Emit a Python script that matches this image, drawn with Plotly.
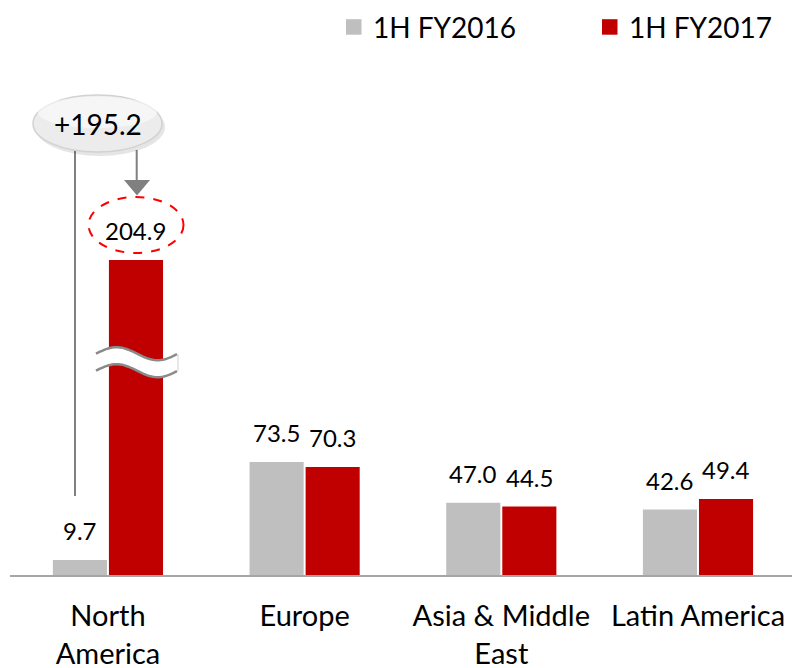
import math
import plotly.graph_objects as go

# Regional figures (first half, fiscal year)
regions = ["North<br>America", "Europe", "Asia & Middle<br>East", "Latin America"]
series_names = ["1H FY2016", "1H FY2017"]
fy2016 = [9.7, 73.5, 47.0, 42.6]
fy2017 = [204.9, 70.3, 44.5, 49.4]
callout_text = "+195.2"

colors = ["#bfbfbf", "#c00000"]
FONT = "Lato, Calibri, Carlito, sans-serif"

W, H = 792, 668
M_L, M_R, M_T, M_B = 10, 0, 60, 93
P_W = W - M_L - M_R
P_H = H - M_T - M_B
Y_MAX = 335
BARGAP = 0.43
BARGROUPGAP = 0.035


def fx(px):
    """pixel x -> paper x"""
    return (px - M_L) / P_W


def fy(py):
    """pixel y -> paper y"""
    return (M_T + P_H - py) / P_H


fig = go.Figure()
for name, vals, col in zip(series_names, [fy2016, fy2017], colors):
    fig.add_trace(go.Bar(x=regions, y=vals, name=name, marker_color=col,
                         marker_line_width=0, showlegend=False))

# value labels above each bar
slot = (1 - BARGAP) / 2
offsets = [-slot / 2, slot / 2]
for off, vals in zip(offsets, [fy2016, fy2017]):
    for i, v in enumerate(vals):
        fig.add_annotation(x=i + off, y=v, xref="x", yref="y", text=f"{v:.1f}",
                           showarrow=False, yanchor="bottom", yshift=13,
                           font=dict(family=FONT, size=24, color="#000000"))

shapes = []

# legend
leg = [(346, series_names[0], colors[0]), (602, series_names[1], colors[1])]
for x0, name, col in leg:
    shapes.append(dict(type="rect", xref="paper", yref="paper",
                       x0=fx(x0), x1=fx(x0 + 15.5), y0=fy(34.7), y1=fy(19.2),
                       fillcolor=col, line_width=0))
    fig.add_annotation(xref="paper", yref="paper", x=fx(x0 + 25), y=fy(27),
                       text=name, showarrow=False, xanchor="left", yanchor="middle",
                       font=dict(family=FONT, size=28, color="#000000"))

# axis break on the tall bar
def wave(x, base):
    return base - 6.5 * math.sin(2 * math.pi * (x - 96) / 82)

xs = [96 + k * 81 / 40 for k in range(41)]
top = [(x, wave(x, 353.7)) for x in xs]
bot = [(x, wave(x, 370.7)) for x in xs]

def pathstr(pts, close=False):
    s = "M " + " L ".join(f"{fx(x):.5f},{fy(y):.5f}" for x, y in pts)
    return s + (" Z" if close else "")

shapes.append(dict(type="path", xref="paper", yref="paper",
                   path=pathstr(top + bot[::-1], close=True),
                   fillcolor="#ffffff", line_width=0))
for pts in (top, bot):
    shapes.append(dict(type="path", xref="paper", yref="paper", path=pathstr(pts),
                       line=dict(color="#8a8a8a", width=2.5)))
shapes.append(dict(type="line", xref="paper", yref="paper",
                   x0=fx(178), x1=fx(178), y0=fy(wave(177, 353.7)), y1=fy(wave(177, 370.7)),
                   line=dict(color="#d0d0d0", width=1)))

# connector lines from callout
shapes.append(dict(type="line", xref="paper", yref="paper",
                   x0=fx(75), x1=fx(75), y0=fy(150), y1=fy(496),
                   line=dict(color="#808080", width=2)))
shapes.append(dict(type="line", xref="paper", yref="paper",
                   x0=fx(136.7), x1=fx(136.7), y0=fy(150), y1=fy(181),
                   line=dict(color="#808080", width=2)))
shapes.append(dict(type="path", xref="paper", yref="paper",
                   path=f"M {fx(124):.5f},{fy(180):.5f} L {fx(150):.5f},{fy(180):.5f} "
                        f"L {fx(137):.5f},{fy(195.5):.5f} Z",
                   fillcolor="#808080", line_width=0))

# callout bubble with soft shadow
shapes.append(dict(type="circle", xref="paper", yref="paper",
                   x0=fx(35), x1=fx(165), y0=fy(98), y1=fy(156),
                   fillcolor="rgba(0,0,0,0.10)", line_width=0))
shapes.append(dict(type="circle", xref="paper", yref="paper",
                   x0=fx(33), x1=fx(162), y0=fy(95), y1=fy(152),
                   fillcolor="#ececec", line=dict(color="#d2d2d2", width=1.5)))
shapes.append(dict(type="circle", xref="paper", yref="paper",
                   x0=fx(38), x1=fx(157), y0=fy(96.5), y1=fy(128),
                   fillcolor="rgba(255,255,255,0.55)", line_width=0))
fig.add_annotation(xref="paper", yref="paper", x=fx(97.5), y=fy(123.5),
                   text=callout_text, showarrow=False, xanchor="center", yanchor="middle",
                   font=dict(family=FONT, size=28, color="#000000"))

# dashed ring around the 204.9 label
shapes.append(dict(type="circle", xref="paper", yref="paper",
                   x0=fx(88.5), x1=fx(183.5), y0=fy(197), y1=fy(253),
                   fillcolor="rgba(0,0,0,0)",
                   line=dict(color="#ff0000", width=2, dash="dash")))

fig.update_layout(
    width=W, height=H,
    margin=dict(l=M_L, r=M_R, t=M_T, b=M_B),
    paper_bgcolor="#ffffff", plot_bgcolor="#ffffff",
    barmode="group", bargap=BARGAP, bargroupgap=BARGROUPGAP,
    showlegend=False,
    shapes=shapes,
    font=dict(family=FONT, color="#000000"),
)
fig.update_xaxes(range=[-0.498, 3.478], showline=True, linecolor="#a6a6a6", linewidth=2,
                 showgrid=False, ticks="", tickfont=dict(family=FONT, size=29, color="#000000"),
                 ticklabelstandoff=14, automargin=False, fixedrange=True)
fig.update_yaxes(range=[0, Y_MAX], visible=False, showgrid=False, zeroline=False,
                 automargin=False, fixedrange=True)

fig.write_html("out.html", config={"displayModeBar": False})
